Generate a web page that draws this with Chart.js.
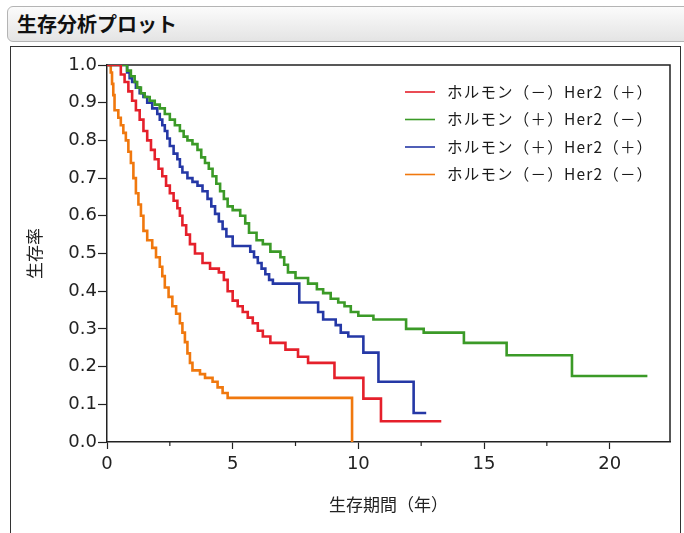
<!DOCTYPE html>
<html lang="ja">
<head>
<meta charset="utf-8">
<title>生存分析プロット</title>
<script src="https://cdn.jsdelivr.net/npm/chart.js@4.4.1/dist/chart.umd.min.js"></script>
<style>
    html, body {
        margin: 0;
        padding: 0;
        background: #fff;
    }
    body {
        position: relative;
        width: 684px;
        height: 533px;
        overflow: hidden;
    }
    #header {
        position: absolute;
        left: 7px;
        top: 6px;
        width: 700px;
        height: 36px;
        box-sizing: border-box;
        border: 1px solid #b4b4b4;
        border-radius: 6px;
        background: linear-gradient(#fbfbfb, #e4e4e4);
        font: bold 20px "Noto Sans CJK JP", sans-serif;
        line-height: 34px;
        padding-left: 9px;
        color: #111;
    }
    #frame {
        position: absolute;
        left: 10px;
        top: 46px;
        width: 669px;
        height: 500px;
        border: 1.5px solid #333;
    }
    #survivalChart {
        position: absolute;
        left: 0;
        top: 0;
    }
</style>
</head>
<body>
<div id="header">生存分析プロット</div>
<div id="frame"></div>
<canvas id="survivalChart" width="684" height="533"></canvas>
<script>
// survival data (time in years, survival probability)
const groupLabels = [
    "ホルモン（－）Her2（＋）",
    "ホルモン（＋）Her2（－）",
    "ホルモン（＋）Her2（＋）",
    "ホルモン（－）Her2（－）",
];
const groupColors = ["#e5202b", "#3b9a27", "#2538a6", "#f0780e"];

const negPosTimes = [0, 0.55, 0.7, 0.85, 1.0, 1.15, 1.3, 1.45, 1.6, 1.75, 1.9, 2.05, 2.2, 2.35, 2.5, 2.65, 2.8, 2.9, 3.0, 3.15,
    3.3, 3.5, 3.8, 4.1, 4.45, 4.65, 4.8, 5.0, 5.2, 5.4, 5.6, 5.8, 6.0, 6.2, 6.5, 7.1, 7.6, 8.0, 9.05, 10.2, 10.9, 13.3];
const negPosSurv = [1.0, 0.975, 0.955, 0.93, 0.905, 0.88, 0.855, 0.825, 0.80, 0.775, 0.75, 0.725, 0.705, 0.68, 0.66, 0.64, 0.62, 0.60, 0.575, 0.55,
    0.525, 0.50, 0.475, 0.46, 0.45, 0.43, 0.40, 0.375, 0.36, 0.345, 0.33, 0.315, 0.295, 0.28, 0.263, 0.245, 0.226, 0.21, 0.17, 0.115, 0.055, 0.055];

const posNegTimes = [0, 0.8, 0.95, 1.1, 1.2, 1.35, 1.5, 1.7, 1.9, 2.1, 2.3, 2.5, 2.7, 2.9, 3.05, 3.2, 3.4, 3.6, 3.75, 3.9,
    4.05, 4.2, 4.35, 4.5, 4.65, 4.8, 5.0, 5.3, 5.5, 5.65, 5.95, 6.2, 6.5, 6.9, 7.05, 7.2, 7.5, 8.0, 8.35, 8.6,
    8.9, 9.2, 9.45, 9.7, 10.0, 10.6, 11.9, 12.6, 14.2, 15.9, 18.5, 21.5];
const posNegSurv = [1.0, 0.985, 0.97, 0.955, 0.94, 0.925, 0.915, 0.905, 0.895, 0.885, 0.87, 0.855, 0.84, 0.825, 0.81, 0.80, 0.79, 0.775, 0.755, 0.74,
    0.725, 0.705, 0.685, 0.665, 0.645, 0.625, 0.615, 0.60, 0.58, 0.555, 0.535, 0.525, 0.505, 0.49, 0.47, 0.45, 0.435, 0.42, 0.405, 0.395,
    0.38, 0.37, 0.36, 0.345, 0.335, 0.325, 0.30, 0.29, 0.263, 0.23, 0.175, 0.175];

const posPosTimes = [0, 0.8, 0.9, 1.0, 1.15, 1.3, 1.45, 1.6, 1.8, 2.0, 2.1, 2.2, 2.3, 2.4, 2.5, 2.65, 2.8, 2.9, 3.0, 3.2,
    3.4, 3.6, 3.8, 4.0, 4.15, 4.3, 4.45, 4.6, 4.75, 5.0, 5.7, 5.85, 6.0, 6.15, 6.3, 6.45, 6.6, 7.65, 8.4, 8.6,
    9.1, 9.3, 9.6, 10.2, 10.8, 12.2, 12.7];
const posPosSurv = [1.0, 0.98, 0.965, 0.955, 0.94, 0.925, 0.915, 0.90, 0.885, 0.87, 0.855, 0.84, 0.825, 0.805, 0.785, 0.765, 0.75, 0.73, 0.715, 0.70,
    0.69, 0.68, 0.665, 0.645, 0.625, 0.605, 0.585, 0.565, 0.545, 0.52, 0.505, 0.49, 0.475, 0.46, 0.445, 0.43, 0.42, 0.37, 0.345, 0.325,
    0.31, 0.29, 0.28, 0.237, 0.16, 0.077, 0.077];

const negNegTimes = [0, 0.15, 0.2, 0.25, 0.3, 0.45, 0.55, 0.65, 0.75, 0.85, 0.95, 1.05, 1.15, 1.25, 1.35, 1.45, 1.6, 1.8, 1.95, 2.1,
    2.2, 2.3, 2.45, 2.6, 2.75, 2.9, 3.0, 3.1, 3.2, 3.3, 3.4, 3.7, 3.9, 4.2, 4.4, 4.6, 4.8, 9.75];
const negNegSurv = [1.0, 0.98, 0.95, 0.92, 0.88, 0.86, 0.84, 0.82, 0.80, 0.77, 0.74, 0.70, 0.66, 0.63, 0.60, 0.56, 0.535, 0.515, 0.49, 0.465,
    0.44, 0.41, 0.385, 0.36, 0.34, 0.315, 0.29, 0.265, 0.235, 0.21, 0.19, 0.18, 0.17, 0.16, 0.145, 0.13, 0.117, 0];

const xMajorTicks = [0, 5, 10, 15, 20];
const xMinorTicks = [2.5, 7.5, 12.5, 17.5];
const yTicks = [0, 0.1, 0.2, 0.3, 0.4, 0.5, 0.6, 0.7, 0.8, 0.9, 1.0];

function toPoints(times, surv) {
    return times.map((t, i) => ({ x: t, y: surv[i] }));
}

function makeDataset(index, times, surv) {
    return {
        label: groupLabels[index],
        data: toPoints(times, surv),
        borderColor: groupColors[index],
        backgroundColor: groupColors[index],
        borderWidth: 2.6,
        pointRadius: 0,
        stepped: true,
        fill: false,
    };
}

// frame edges and the minor x ticks, drawn under the curves
const plotFrame = {
    id: "plotFrame",
    beforeDatasetsDraw(chart) {
        const { ctx, chartArea: area, scales } = chart;
        ctx.save();
        ctx.strokeStyle = "#222";
        ctx.lineWidth = 1.5;
        ctx.beginPath();
        ctx.moveTo(area.left, area.top);
        ctx.lineTo(area.right, area.top);
        ctx.lineTo(area.right, area.bottom);
        ctx.stroke();
        ctx.lineWidth = 1.2;
        xMinorTicks.forEach(v => {
            const px = scales.x.getPixelForValue(v);
            ctx.beginPath();
            ctx.moveTo(px, area.bottom);
            ctx.lineTo(px, area.bottom + 4);
            ctx.stroke();
        });
        ctx.restore();
    },
};

// legend sits inside the plot, top right
const insideLegend = {
    id: "insideLegend",
    afterDraw(chart) {
        const { ctx, chartArea: area } = chart;
        ctx.save();
        ctx.font = '15.5px "Noto Sans CJK JP", sans-serif';
        ctx.letterSpacing = "1.2px";
        ctx.textBaseline = "middle";
        ctx.textAlign = "left";
        chart.data.datasets.forEach((ds, i) => {
            const y = area.top + 27 + i * 27.5;
            const x0 = area.right - 265;
            ctx.strokeStyle = ds.borderColor;
            ctx.lineWidth = 1.6;
            ctx.beginPath();
            ctx.moveTo(x0, y);
            ctx.lineTo(x0 + 30, y);
            ctx.stroke();
            ctx.fillStyle = "#1a1a1a";
            ctx.fillText(ds.label, x0 + 42, y);
        });
        ctx.restore();
    },
};

const ctx = document.getElementById("survivalChart").getContext("2d");
new Chart(ctx, {
    type: "line",
    data: {
        datasets: [
            makeDataset(0, negPosTimes, negPosSurv),
            makeDataset(1, posNegTimes, posNegSurv),
            makeDataset(2, posPosTimes, posPosSurv),
            makeDataset(3, negNegTimes, negNegSurv),
        ],
    },
    options: {
        responsive: false,
        animation: false,
        layout: {
            padding: { top: 65, right: 14, left: 0, bottom: 0 },
        },
        plugins: {
            legend: { display: false },
            tooltip: { enabled: false },
        },
        scales: {
            x: {
                type: "linear",
                min: 0,
                max: 22.4,
                afterFit: scale => { scale.height = 91; },
                afterBuildTicks: scale => { scale.ticks = xMajorTicks.map(v => ({ value: v })); },
                ticks: {
                    color: "#222",
                    padding: 5,
                    maxRotation: 0,
                    font: { family: "DejaVu Sans", size: 18 },
                    callback: value => String(value),
                },
                grid: {
                    drawOnChartArea: false,
                    tickLength: 7,
                    tickWidth: 1.2,
                    tickColor: "#222",
                },
                border: { color: "#222", width: 1.5 },
                title: {
                    display: true,
                    text: "生存期間（年）",
                    color: "#222",
                    font: { family: "Noto Sans CJK JP", size: 17 },
                    padding: { top: 0, bottom: 18 },
                },
            },
            y: {
                min: 0,
                max: 1,
                afterFit: scale => { scale.width = 107; },
                afterBuildTicks: scale => { scale.ticks = yTicks.map(v => ({ value: v })); },
                ticks: {
                    color: "#222",
                    padding: 1,
                    font: { family: "DejaVu Sans", size: 18 },
                    callback: value => value.toFixed(1),
                },
                grid: {
                    drawOnChartArea: false,
                    tickLength: 9,
                    tickWidth: 1.2,
                    tickColor: "#222",
                },
                border: { color: "#222", width: 1.5 },
                title: {
                    display: true,
                    text: "生存率",
                    color: "#222",
                    font: { family: "Noto Sans CJK JP", size: 17 },
                    padding: { top: 24, bottom: 0 },
                },
            },
        },
    },
    plugins: [plotFrame, insideLegend],
});
</script>
</body>
</html>
